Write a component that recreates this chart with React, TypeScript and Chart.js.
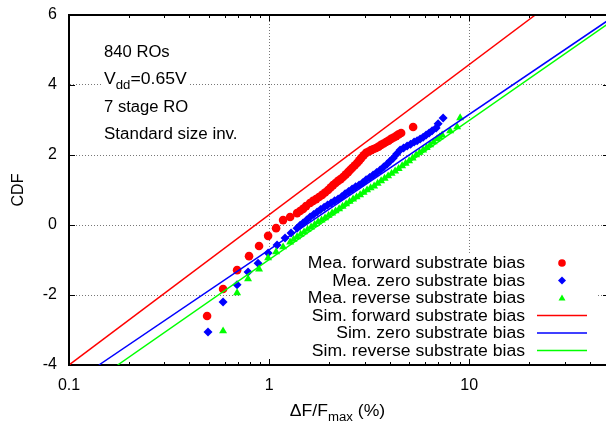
import React, { useEffect, useRef } from 'react';
import { Chart, registerables } from 'chart.js';

Chart.register(...registerables);

// ---- Data ----
const meaForwardX = [0.490, 0.589, 0.692, 0.794, 0.891, 0.989, 1.084, 1.175, 1.274, 1.380, 1.429, 1.479, 1.531, 1.603, 1.660, 1.718, 1.778, 1.841, 1.905, 1.972, 2.030, 2.089, 2.150, 2.213, 2.278, 2.344, 2.413, 2.483, 2.541, 2.600, 2.677, 2.754, 2.818, 2.884, 2.968, 3.055, 3.145, 3.236, 3.331, 3.428, 3.528, 3.631, 3.737, 3.846, 3.959, 4.074, 4.194, 4.315, 4.442, 4.571, 5.248];
const meaForwardY = [-2.60, -1.83, -1.29, -0.89, -0.60, -0.31, -0.09, 0.14, 0.23, 0.34, 0.40, 0.46, 0.54, 0.63, 0.69, 0.74, 0.80, 0.86, 0.93, 1.00, 1.07, 1.14, 1.20, 1.26, 1.31, 1.37, 1.44, 1.51, 1.57, 1.63, 1.70, 1.77, 1.84, 1.91, 1.99, 2.06, 2.10, 2.14, 2.17, 2.20, 2.24, 2.29, 2.33, 2.37, 2.41, 2.46, 2.50, 2.54, 2.59, 2.63, 2.80];

const meaZeroX = [0.495, 0.589, 0.692, 0.785, 0.881, 0.989, 1.096, 1.202, 1.288, 1.380, 1.429, 1.479, 1.540, 1.603, 1.670, 1.738, 1.809, 1.884, 1.960, 2.042, 2.126, 2.213, 2.304, 2.399, 2.497, 2.600, 2.708, 2.818, 2.934, 3.055, 3.181, 3.311, 3.447, 3.589, 3.737, 3.890, 4.027, 4.169, 4.341, 4.519, 4.702, 4.898, 5.097, 5.309, 5.495, 5.689, 5.888, 6.095, 6.310, 6.531, 6.839, 6.998, 7.413];
const meaZeroY = [-3.06, -2.20, -1.71, -1.34, -1.09, -0.80, -0.57, -0.37, -0.23, -0.09, -0.01, 0.06, 0.14, 0.23, 0.30, 0.37, 0.44, 0.51, 0.57, 0.63, 0.69, 0.74, 0.81, 0.89, 0.96, 1.03, 1.09, 1.14, 1.21, 1.29, 1.36, 1.43, 1.50, 1.57, 1.66, 1.74, 1.83, 1.91, 2.03, 2.14, 2.20, 2.26, 2.31, 2.37, 2.41, 2.46, 2.51, 2.57, 2.63, 2.69, 2.77, 2.89, 3.06];

const meaReverseX = [0.589, 0.692, 0.785, 0.891, 0.989, 1.084, 1.175, 1.274, 1.326, 1.380, 1.437, 1.496, 1.558, 1.622, 1.689, 1.758, 1.830, 1.905, 1.984, 2.065, 2.150, 2.239, 2.330, 2.427, 2.526, 2.630, 2.738, 2.851, 2.968, 3.090, 3.217, 3.350, 3.488, 3.631, 3.780, 3.936, 4.097, 4.266, 4.442, 4.624, 4.814, 5.012, 5.216, 5.433, 5.655, 5.888, 6.130, 6.383, 6.645, 6.918, 7.120, 7.328, 8.035, 8.710, 9.016];
const meaReverseY = [-3.03, -1.94, -1.54, -1.26, -0.94, -0.77, -0.63, -0.49, -0.41, -0.34, -0.27, -0.20, -0.13, -0.06, 0.01, 0.09, 0.14, 0.20, 0.27, 0.34, 0.40, 0.46, 0.53, 0.60, 0.67, 0.74, 0.80, 0.86, 0.93, 1.00, 1.06, 1.11, 1.19, 1.26, 1.33, 1.40, 1.47, 1.54, 1.61, 1.69, 1.76, 1.83, 1.91, 2.00, 2.07, 2.14, 2.21, 2.29, 2.37, 2.46, 2.51, 2.57, 2.69, 2.80, 3.06];

const simForwardX = [0.1, 21.4];
const simForwardY = [-4, 6];
const simZeroX = [0.141, 50];
const simZeroY = [-4, 5.865];
const simReverseX = [0.175, 50];
const simReverseY = [-4, 5.77];

const seriesLabels = [
  'Mea. forward substrate bias',
  'Mea. zero substrate bias',
  'Mea. reverse substrate bias',
  'Sim. forward substrate bias',
  'Sim. zero substrate bias',
  'Sim. reverse substrate bias',
];
const seriesColors = ['#ff0000', '#0000ff', '#00ff00', '#ff0000', '#0000ff', '#00ff00'];
const seriesKinds = ['circle', 'diamond', 'triangle', 'line', 'line', 'line'];

const xMajorTicks = [0.1, 1, 10];
const xMinorTicks = [0.2, 0.3, 0.4, 0.5, 0.6, 0.7, 0.8, 0.9, 2, 3, 4, 5, 6, 7, 8, 9, 20, 30, 40, 50];
const yMajorTicks = [-4, -2, 0, 2, 4, 6];
const X_MIN = 0.1;
const X_MAX = 50;
const Y_MIN = -4;
const Y_MAX = 6;

const noteLines = ['840 ROs', '7 stage RO', 'Standard size inv.'];
const vddMain = 'V';
const vddSub = 'dd';
const vddRest = '=0.65V';
const xTitleMain = 'ΔF/F';
const xTitleSub = 'max';
const xTitleRest = ' (%)';
const yTitle = 'CDF';

const FONT = '"Liberation Sans", Arial, Helvetica, sans-serif';
const STRETCH = 1.1;

function pts(xs: number[], ys: number[]) {
  return xs.map((x, i) => ({ x, y: ys[i] }));
}

function drawMarker(ctx: CanvasRenderingContext2D, kind: string, x: number, y: number, r: number, color: string) {
  ctx.fillStyle = color;
  ctx.beginPath();
  if (kind === 'circle') {
    ctx.arc(x, y, r, 0, Math.PI * 2);
  } else if (kind === 'diamond') {
    ctx.moveTo(x, y - r);
    ctx.lineTo(x + r, y);
    ctx.lineTo(x, y + r);
    ctx.lineTo(x - r, y);
    ctx.closePath();
  } else {
    const h = r * 1.5;
    ctx.moveTo(x, y - h * 0.6);
    ctx.lineTo(x + r * 0.87, y + h * 0.4);
    ctx.lineTo(x - r * 0.87, y + h * 0.4);
    ctx.closePath();
  }
  ctx.fill();
}

// draw text stretched horizontally; align 'left' or 'right' at x
function sText(ctx: CanvasRenderingContext2D, text: string, x: number, y: number, align: 'left' | 'right', sx: number) {
  ctx.save();
  ctx.textAlign = 'left';
  const w = ctx.measureText(text).width * sx;
  const x0 = align === 'left' ? x : x - w;
  ctx.translate(x0, y);
  ctx.scale(sx, 1);
  ctx.fillText(text, 0, 0);
  ctx.restore();
  return w;
}

const decorPlugin = {
  id: 'decor',
  beforeDatasetsDraw(chart: any) {
    const ctx: CanvasRenderingContext2D = chart.ctx;
    ctx.save();
    ctx.fillStyle = '#ffffff';
    // opaque key box
    ctx.fillRect(240, 253, 358, 109);
    // opaque box behind Vdd label
    ctx.fillRect(102, 70, 88, 22);
    ctx.restore();
  },
  afterDraw(chart: any) {
    const ctx: CanvasRenderingContext2D = chart.ctx;
    const xs = chart.scales.x;
    const ys = chart.scales.y;
    const area = chart.chartArea;
    ctx.save();
    // frame (top + right)
    ctx.strokeStyle = '#000';
    ctx.lineWidth = 2;
    ctx.beginPath();
    ctx.moveTo(area.left - 1, area.top);
    ctx.lineTo(area.right, area.top);
    ctx.lineTo(area.right, area.bottom);
    ctx.stroke();
    // inward ticks
    ctx.lineWidth = 1;
    ctx.beginPath();
    const xt = (v: number, len: number) => {
      const px = Math.round(xs.getPixelForValue(v)) + 0.5;
      ctx.moveTo(px, area.bottom);
      ctx.lineTo(px, area.bottom - len);
      ctx.moveTo(px, area.top);
      ctx.lineTo(px, area.top + len);
    };
    xMajorTicks.forEach((v) => xt(v, 6));
    xMinorTicks.forEach((v) => xt(v, 3));
    yMajorTicks.forEach((v) => {
      const py = Math.round(ys.getPixelForValue(v)) + 0.5;
      ctx.moveTo(area.left, py);
      ctx.lineTo(area.left + 6, py);
      ctx.moveTo(area.right, py);
      ctx.lineTo(area.right - 6, py);
    });
    ctx.stroke();

    ctx.fillStyle = '#000';
    ctx.textBaseline = 'alphabetic';
    // annotation text
    ctx.font = `16px ${FONT}`;
    sText(ctx, noteLines[0], 104, 57, 'left', 1.04);
    let vx = 104;
    vx += sText(ctx, vddMain, vx, 84, 'left', STRETCH);
    ctx.font = `12px ${FONT}`;
    vx += sText(ctx, vddSub, vx, 89, 'left', STRETCH);
    ctx.font = `16px ${FONT}`;
    sText(ctx, vddRest, vx, 84, 'left', STRETCH);
    sText(ctx, noteLines[1], 104, 112, 'left', 1.04);
    sText(ctx, noteLines[2], 104, 139, 'left', 1.06);

    // key
    seriesLabels.forEach((label, i) => {
      const by = 268 + i * 17.5;
      ctx.fillStyle = '#000';
      sText(ctx, label, 525, by, 'right', STRETCH);
      const cy = by - 5;
      if (seriesKinds[i] === 'line') {
        ctx.strokeStyle = seriesColors[i];
        ctx.lineWidth = 1.5;
        ctx.beginPath();
        ctx.moveTo(537, cy);
        ctx.lineTo(587, cy);
        ctx.stroke();
      } else {
        drawMarker(ctx, seriesKinds[i], 562, cy, seriesKinds[i] === 'circle' ? 3.8 : 4, seriesColors[i]);
      }
    });

    // axis titles
    ctx.fillStyle = '#000';
    ctx.font = `16px ${FONT}`;
    const w1 = ctx.measureText(xTitleMain).width * STRETCH;
    const w3 = ctx.measureText(xTitleRest).width * STRETCH;
    ctx.font = `12px ${FONT}`;
    const w2 = ctx.measureText(xTitleSub).width * STRETCH;
    let tx = 337.5 - (w1 + w2 + w3) / 2;
    ctx.font = `16px ${FONT}`;
    tx += sText(ctx, xTitleMain, tx, 416, 'left', STRETCH);
    ctx.font = `12px ${FONT}`;
    tx += sText(ctx, xTitleSub, tx, 421, 'left', STRETCH);
    ctx.font = `16px ${FONT}`;
    sText(ctx, xTitleRest, tx, 416, 'left', STRETCH);

    ctx.save();
    ctx.translate(23, 190);
    ctx.rotate(-Math.PI / 2);
    ctx.textAlign = 'center';
    ctx.fillText(yTitle, 0, 0);
    ctx.restore();
    ctx.restore();
  },
};

export default function App() {
  const ref = useRef<HTMLCanvasElement>(null);
  useEffect(() => {
    const canvas = ref.current;
    if (!canvas) return;
    const chart = new Chart(canvas, {
      type: 'scatter',
      data: {
        datasets: [
          { label: seriesLabels[0], data: pts(meaForwardX, meaForwardY), backgroundColor: seriesColors[0], borderColor: seriesColors[0], pointStyle: 'circle', pointRadius: 4.3, pointBorderWidth: 0, showLine: false, order: 5 },
          { label: seriesLabels[1], data: pts(meaZeroX, meaZeroY), backgroundColor: seriesColors[1], borderColor: seriesColors[1], pointStyle: 'rectRot', pointRadius: 4.5, pointBorderWidth: 0, showLine: false, order: 4 },
          { label: seriesLabels[2], data: pts(meaReverseX, meaReverseY), backgroundColor: seriesColors[2], borderColor: seriesColors[2], pointStyle: 'triangle', pointRadius: 4.6, pointBorderWidth: 0, showLine: false, order: 3 },
          { label: seriesLabels[3], data: pts(simForwardX, simForwardY), borderColor: seriesColors[3], backgroundColor: seriesColors[3], showLine: true, pointRadius: 0, borderWidth: 1.5, order: 2 },
          { label: seriesLabels[4], data: pts(simZeroX, simZeroY), borderColor: seriesColors[4], backgroundColor: seriesColors[4], showLine: true, pointRadius: 0, borderWidth: 1.5, order: 1 },
          { label: seriesLabels[5], data: pts(simReverseX, simReverseY), borderColor: seriesColors[5], backgroundColor: seriesColors[5], showLine: true, pointRadius: 0, borderWidth: 1.5, order: 0 },
        ],
      },
      options: {
        responsive: false,
        maintainAspectRatio: false,
        devicePixelRatio: 1,
        animation: false,
        events: [],
        layout: { padding: { left: 0, top: 15, right: 11, bottom: 0 } },
        plugins: { legend: { display: false }, tooltip: { enabled: false }, title: { display: false } },
        scales: {
          x: {
            type: 'logarithmic',
            min: X_MIN,
            max: X_MAX,
            afterBuildTicks: (axis: any) => {
              axis.ticks = xMajorTicks.map((v) => ({ value: v }));
            },
            afterFit: (s: any) => {
              s.height = 56;
              s.paddingLeft = 0;
              s.paddingRight = 0;
            },
            ticks: {
              autoSkip: false,
              maxRotation: 0,
              padding: 11,
              color: '#000',
              font: { family: FONT, size: 16 },
              callback: (v: any) => String(v),
            },
            grid: { color: '#777', lineWidth: 1, drawTicks: false },
            border: { color: '#000', width: 2, dash: [1, 2] },
          },
          y: {
            type: 'linear',
            min: Y_MIN,
            max: Y_MAX,
            afterBuildTicks: (axis: any) => {
              axis.ticks = yMajorTicks.map((v) => ({ value: v }));
            },
            afterFit: (s: any) => {
              s.width = 69;
              s.paddingTop = 0;
              s.paddingBottom = 0;
            },
            ticks: {
              padding: 12,
              color: '#000',
              font: { family: FONT, size: 16 },
              callback: (v: any) => String(v),
            },
            grid: { color: '#777', lineWidth: 1, drawTicks: false },
            border: { color: '#000', width: 2, dash: [1, 2] },
          },
        },
      },
      plugins: [decorPlugin],
    } as any);
    return () => chart.destroy();
  }, []);
  return (
    <div style={{ position: 'fixed', left: 0, top: 0, width: 606, height: 421, overflow: 'hidden', background: '#fff' }}>
      <canvas ref={ref} width={620} height={421} style={{ display: 'block', width: 620, height: 421 }} />
    </div>
  );
}
